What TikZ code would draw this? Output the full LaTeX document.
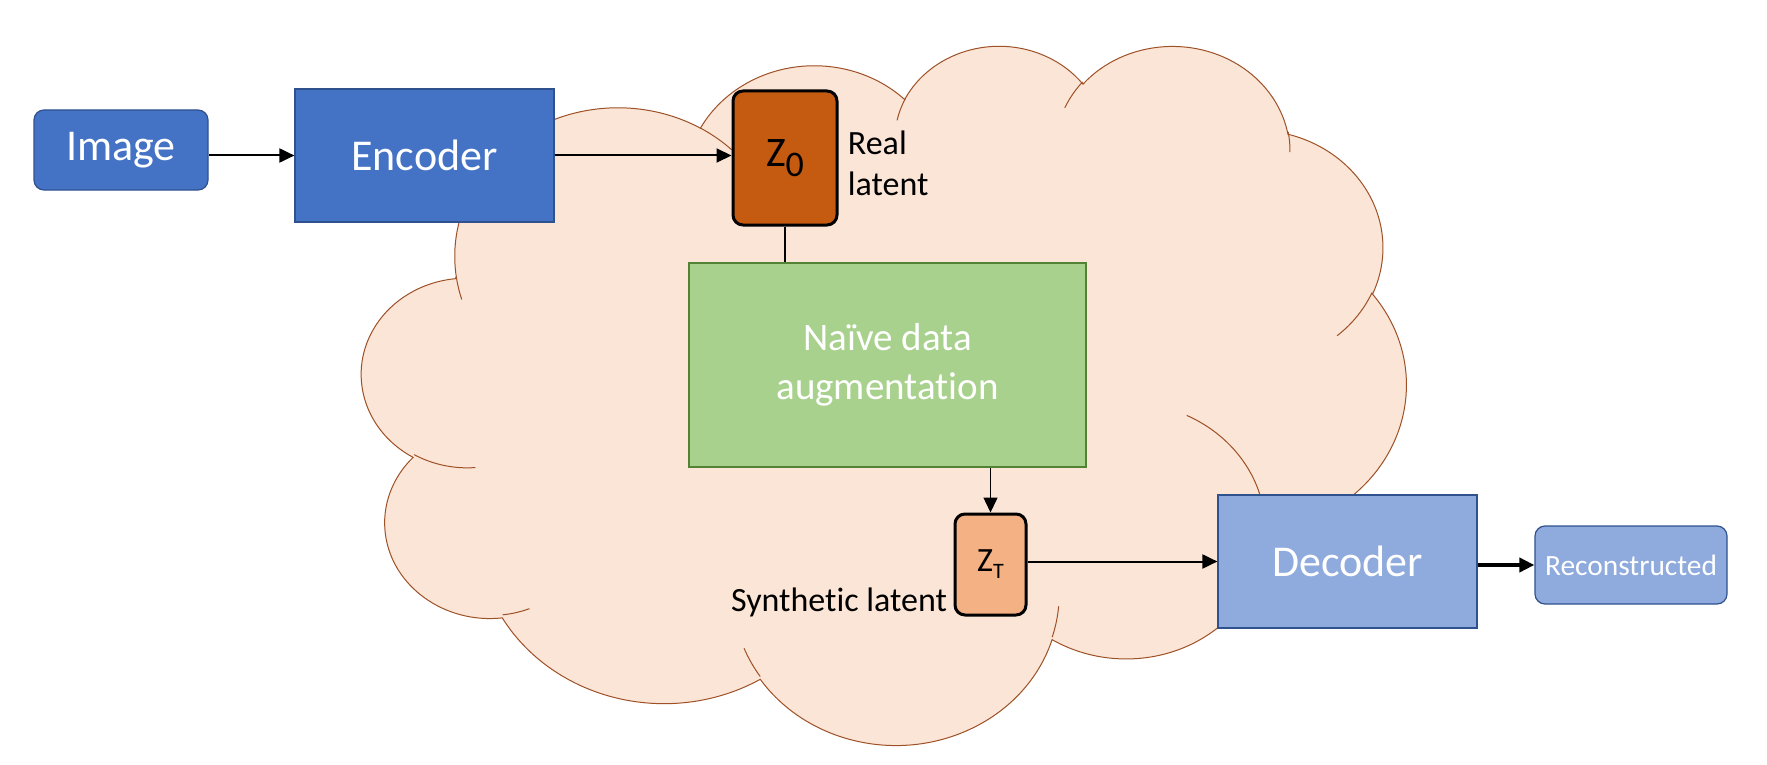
\documentclass[tikz,border=0pt]{standalone}
\usepackage{fontspec}
\setmainfont{Carlito}[Ligatures=NoCommon]
\usetikzlibrary{arrows.meta,
                positioning
                }
\definecolor{encblue}{HTML}{4472C4}
\definecolor{decblue}{HTML}{8FAADC}
\definecolor{edgeblue}{HTML}{2F528F}
\definecolor{auggreen}{HTML}{A9D18E}
\definecolor{edgegreen}{HTML}{548235}
\definecolor{zreal}{HTML}{C55A11}
\definecolor{zsyn}{HTML}{F4B183}
\definecolor{cloudfill}{HTML}{FBE5D6}
\definecolor{cloudline}{HTML}{9E5026}
% geometric arc angles -> parametric angles
\newcommand\cloudang[4]{%
  \pgfmathsetmacro\cts{atan2(#1*sin(#3),#2*cos(#3))}%
  \pgfmathsetmacro\cte{atan2(#1*sin(#3+#4),#2*cos(#3+#4))}%
  \pgfmathsetmacro\cte{\cte<\cts ? \cte+360 : \cte}%
  \global\let\cts\cts\global\let\cte\cte}
\newcommand\latsub[3]{\raisebox{#2}{\fontsize{#1}{#1}\selectfont #3}}
\begin{document}
\begin{tikzpicture}[
    x=0.5pt, y=-0.5pt,
    node distance = 4pt,
   blk/.style = {draw=edgeblue, line width=0.6pt, text=white,
                 font=\fontsize{22pt}{26pt}\selectfont},
  rblk/.style = {blk, rounded corners=5pt},
   lat/.style = {draw, line width=1.5pt, rounded corners=5pt},
   lbl/.style = {inner sep=0pt, align=left,
                 font=\fontsize{17pt}{20.5pt}\selectfont},
   arr/.style = {-{Triangle[length=7.5pt,width=7pt]}, line width=1pt},
 cloud/.style = {fill=cloudfill, draw=cloudline, line width=0.5pt},
 cloud edge/.style = {draw=cloudline, line width=0.5pt}
                    ]
\useasboundingbox (0,0) rectangle (1767,765);
\fill[white] (0,0) rectangle (1767,765);
    \begin{scope}[shift={(362,44)}, x=1.2083pt, y=-0.8090pt]
\draw[cloud] (39,143.70)
    foreach \rx/\ry/\sa/\sw in {67.53/91.90/-190.4875/123.7805,
                                53.33/72.67/-144.1024/89.9452,
                                43.65/59.45/-145.8079/99.7230,
                                48.57/65.95/-130.9861/117.2417,
                                53.33/72.73/-78.7089/109.0269,
                                67.75/92.20/-46.2673/130.2690,
                                57.85/78.67/0.6250/114.0333,
                                67.52/92.15/22.4516/115.1726,
                                77.20/105.43/66.2426/75.7110,
                                43.60/59.18/-274.9421/146.7356,
                                43.45/59.45/-246.8285/152.5226}
    {\pgfextra{\cloudang{\rx}{\ry}{\sa}{\sw}}
     arc[start angle=\cts, end angle=\cte, x radius=\rx, y radius=\ry]}
    -- cycle;
\foreach \px/\py/\rx/\ry/\sa/\sw in {46.93/261.77/43.45/59.45/86.7420/26.4295,
                                     69.28/348.99/43.60/59.18/73.6105/11.4475,
                                     164.78/390.90/67.52/92.15/137.6242/14.0811,
                                     288.27/347.51/67.52/92.15/6.4533/15.9984,
                                     341.29/229.54/57.85/78.67/-70.2924/70.9174,
                                     417.98/153.54/53.33/72.73/30.3180/27.7515,
                                     383.24/54.26/48.57/65.95/-13.7443/14.8589,
                                     290.78/39.52/48.57/65.95/-149.1815/18.1954,
                                     221.41/47.20/43.65/59.45/-163.4943/17.6864,
                                     140.00/51.92/67.53/91.90/-66.7070/12.3194,
                                     41.27/157.89/67.53/91.90/157.6544/11.8582}
    {\cloudang{\rx}{\ry}{\sa}{\sw}
     \draw[cloud edge] (\px,\py)
        arc[start angle=\cts, end angle=\cte, x radius=\rx, y radius=\ry];}
    \end{scope}
\node (img) [rblk, fill=encblue, minimum width=87pt, minimum height=40pt]
    at (121,150) {Image};
\node (enc) [blk, fill=encblue, minimum width=129.5pt, minimum height=66.5pt]
    at (424.5,155.5) {Encoder};
\node (z0)  [lat, fill=zreal, minimum width=52pt, minimum height=67pt,
             font=\fontsize{21pt}{25pt}\selectfont]
    at (785,158) {Z\latsub{18pt}{-5pt}{0}};
\node (real) [lbl, right=4.5pt of z0, yshift=-2.5pt] {Real\\latent};
\node (aug) [draw=edgegreen, line width=0.6pt, fill=auggreen, text=white,
             align=center, minimum width=198.5pt, minimum height=102pt,
             font=\fontsize{19.5pt}{24.5pt}\selectfont]
    at (887.5,365) {Naïve data\\augmentation};
\node (zt)  [lat, fill=zsyn, minimum width=35.5pt, minimum height=50.5pt,
             inner sep=1pt, font=\fontsize{17pt}{20pt}\selectfont]
    at (990.5,564.5) {Z\latsub{11pt}{-3.5pt}{T}};
\node (syn) [lbl, anchor=base east] at ([xshift=-3pt, yshift=2.5pt]zt.south west)
    {Synthetic latent};
\node (dec) [blk, fill=decblue, minimum width=129.5pt, minimum height=66.5pt]
    at (1347.5,561.5) {Decoder};
\node (rec) [rblk, fill=decblue, minimum width=96pt, minimum height=39pt,
             inner sep=1pt, font=\fontsize{14.7pt}{18pt}\selectfont]
    at (1631,565) {Reconstructed};
\draw[arr] (img.east |- enc.west) -- (enc.west);
\draw[arr] (enc.east) -- (z0.west |- enc.east);
\draw[line width=0.75pt] (z0.south) -- (z0.south |- aug.north);
\draw[arr, line width=0.75pt] (zt.north |- aug.south) -- (zt.north);
\draw[arr] (zt.east |- dec.west) -- (dec.west);
\draw[arr, line width=2pt] (dec.east |- rec.west) -- (rec.west);
\end{tikzpicture}
\end{document}
